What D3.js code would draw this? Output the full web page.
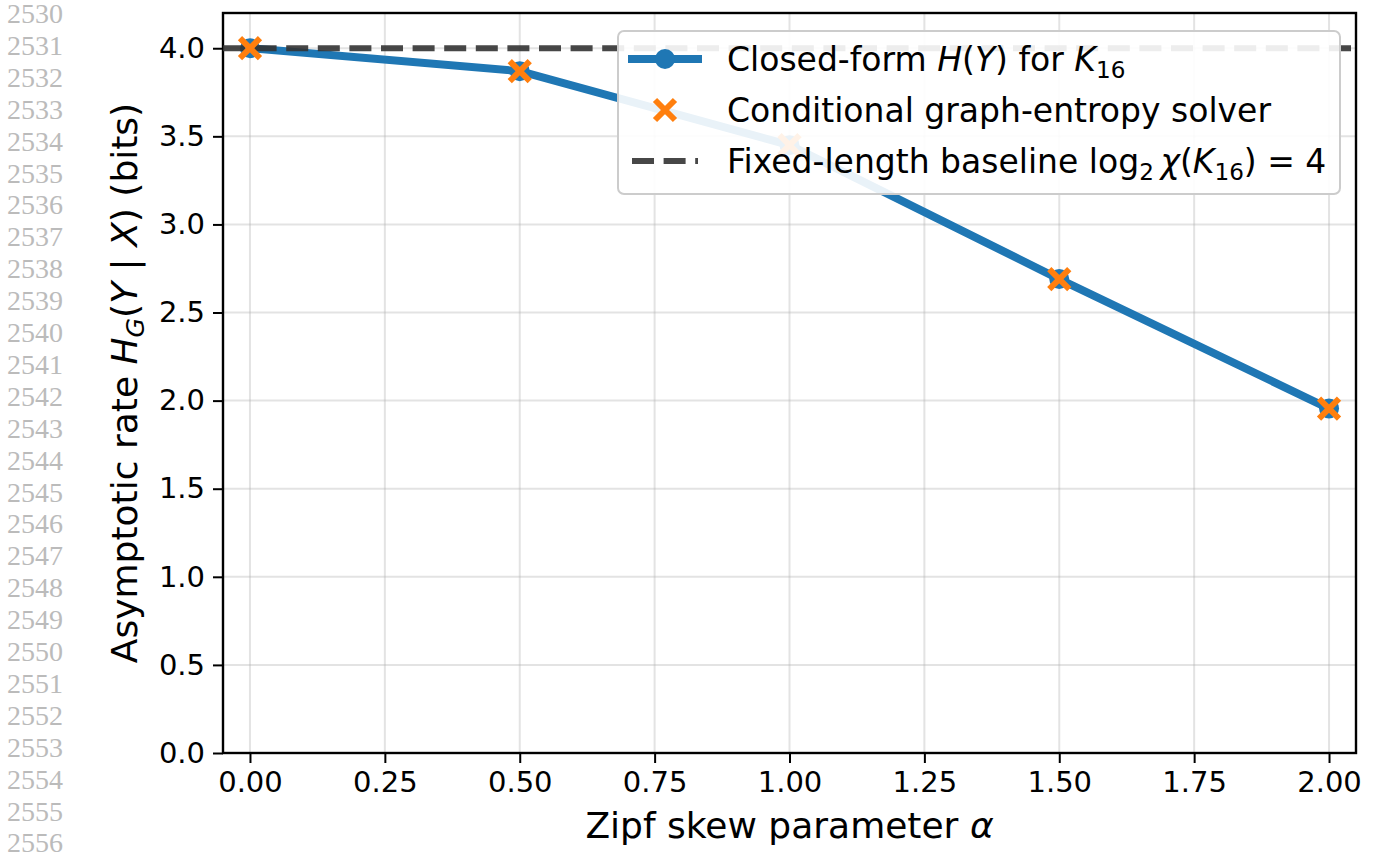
<!DOCTYPE html>
<html>
<head>
<meta charset="utf-8">
<script src="https://cdn.jsdelivr.net/npm/d3@7"></script>
<style>
  body { margin: 0; background: #fff; }
  svg { display: block; }
  text { font-family: "DejaVu Sans", sans-serif; }
</style>
</head>
<body>
<div id="chart"></div>
<script>
// data
const alphas = [0.0, 0.5, 1.0, 1.5, 2.0];
const closedForm = [4.0, 3.87, 3.45, 2.69, 1.955];
const solver = [4.0, 3.87, 3.45, 2.69, 1.955];
const baseline = 4;
const xTicks = [0, 0.25, 0.5, 0.75, 1.0, 1.25, 1.5, 1.75, 2.0];
const yTicks = [0, 0.5, 1.0, 1.5, 2.0, 2.5, 3.0, 3.5, 4.0];
const lineNumbers = d3.range(2530, 2557);

const W = 1377, H = 854;
const svg = d3.select('#chart').append('svg').attr('width', W).attr('height', H);

// margin line numbers
svg.append('g').selectAll('text')
    .data(lineNumbers)
    .enter().append('text')
    .attr('x', 7)
    .attr('y', (d, i) => 13.5 + i * 31.9)
    .attr('dy', '0.34em')
    .style('font-family', '"Liberation Serif", "Times New Roman", serif')
    .style('font-size', '28px')
    .attr('fill', '#bbbbbb')
    .text(d => d);

const x = d3.scaleLinear().domain([-0.05, 2.05]).range([223, 1356]);
const y = d3.scaleLinear().domain([0, 4.2]).range([753, 13]);

// grid
const grid = svg.append('g');
grid.selectAll('.gx').data(xTicks).enter().append('line')
    .attr('x1', d => x(d)).attr('x2', d => x(d))
    .attr('y1', y(4.2)).attr('y2', y(0))
    .attr('stroke', '#b0b0b0').attr('stroke-opacity', 0.35).attr('stroke-width', 2);
grid.selectAll('.gy').data(yTicks).enter().append('line')
    .attr('y1', d => y(d)).attr('y2', d => y(d))
    .attr('x1', x(-0.05)).attr('x2', x(2.05))
    .attr('stroke', '#b0b0b0').attr('stroke-opacity', 0.35).attr('stroke-width', 2);

// axes
const xAxis = svg.append('g')
    .attr('transform', `translate(0,${y(0)})`)
    .call(d3.axisBottom(x).tickValues(xTicks).tickFormat(d3.format('.2f')).tickSizeOuter(0).tickSize(10).tickPadding(8));
const yAxis = svg.append('g')
    .attr('transform', `translate(${x(-0.05)},0)`)
    .call(d3.axisLeft(y).tickValues(yTicks).tickFormat(d3.format('.1f')).tickSizeOuter(0).tickSize(10).tickPadding(8));
[xAxis, yAxis].forEach(a => {
    a.select('.domain').remove();
    a.selectAll('.tick line').attr('stroke', '#000').attr('stroke-width', 2);
    a.selectAll('.tick text').style('font-size', '29px').attr('fill', '#000')
        .style('font-family', '"DejaVu Sans", sans-serif');
});

// frame
svg.append('rect')
    .attr('x', x(-0.05)).attr('y', y(4.2))
    .attr('width', x(2.05) - x(-0.05)).attr('height', y(0) - y(4.2))
    .attr('fill', 'none').attr('stroke', '#000').attr('stroke-width', 2.4);

// closed-form line
const line = d3.line().x((d, i) => x(alphas[i])).y(d => y(d));
svg.append('path')
    .datum(closedForm)
    .attr('d', line)
    .attr('fill', 'none')
    .attr('stroke', '#1f77b4')
    .attr('stroke-width', 8)
    .attr('stroke-linejoin', 'round');
svg.append('g').selectAll('circle')
    .data(closedForm)
    .enter().append('circle')
    .attr('cx', (d, i) => x(alphas[i]))
    .attr('cy', d => y(d))
    .attr('r', 10)
    .attr('fill', '#1f77b4');

// fixed-length baseline
svg.append('line')
    .attr('x1', x(-0.05)).attr('x2', x(2.05))
    .attr('y1', y(baseline)).attr('y2', y(baseline))
    .attr('stroke', '#333').attr('stroke-opacity', 0.9)
    .attr('stroke-width', 6).attr('stroke-dasharray', '22,9.6');

// solver crosses
function cross(g, cx, cy, s) {
    g.append('path')
        .attr('d', `M${cx - s},${cy - s}L${cx + s},${cy + s}M${cx - s},${cy + s}L${cx + s},${cy - s}`)
        .attr('stroke', '#ff7f0e').attr('stroke-width', 6).attr('fill', 'none');
}
const crosses = svg.append('g');
solver.forEach((v, i) => cross(crosses, x(alphas[i]), y(v), 10));

// legend
const lg = svg.append('g');
lg.append('rect')
    .attr('x', 618).attr('y', 31).attr('width', 722).attr('height', 163)
    .attr('rx', 6)
    .attr('fill', '#fff').attr('fill-opacity', 0.9)
    .attr('stroke', '#cccccc').attr('stroke-width', 2);

const rows = [59, 110, 161];
lg.append('line').attr('x1', 628).attr('x2', 702).attr('y1', rows[0]).attr('y2', rows[0])
    .attr('stroke', '#1f77b4').attr('stroke-width', 8);
lg.append('circle').attr('cx', 665).attr('cy', rows[0]).attr('r', 10).attr('fill', '#1f77b4');
cross(lg, 665, rows[1], 10);
lg.append('line').attr('x1', 632).attr('x2', 698).attr('y1', rows[2]).attr('y2', rows[2])
    .attr('stroke', '#333').attr('stroke-opacity', 0.9)
    .attr('stroke-width', 6).attr('stroke-dasharray', '22,9.6');

function addText(g, px, py, parts, size) {
    const t = g.append('text').attr('x', px).attr('y', py).style('font-size', size + 'px').attr('fill', '#000');
    parts.forEach(p => {
        const ts = t.append('tspan').text(p.t);
        if (p.i) ts.style('font-style', 'italic');
        if (p.sub) ts.style('font-size', (size * 0.7) + 'px').attr('dy', size * 0.2);
        if (p.up) ts.attr('dy', -size * 0.2);
    });
    return t;
}
const lf = 33;
addText(lg, 727, rows[0] + 12, [
    {t: 'Closed-form '}, {t: 'H', i: true}, {t: '('}, {t: 'Y', i: true}, {t: ') for '},
    {t: 'K', i: true}, {t: '16', sub: true}
], lf);
addText(lg, 727, rows[1] + 12, [{t: 'Conditional graph-entropy solver'}], lf);
addText(lg, 727, rows[2] + 12, [
    {t: 'Fixed-length baseline log'}, {t: '2', sub: true}, {t: '\u2009', up: true}, {t: 'χ', i: true},
    {t: '('}, {t: 'K', i: true}, {t: '16', sub: true}, {t: ') = 4', up: true}
], lf);

// axis labels
addText(svg, 0, 0, [{t: 'Zipf skew parameter '}, {t: 'α', i: true}], 36)
    .attr('x', x(1.0)).attr('y', 838).attr('text-anchor', 'middle');

const yl = addText(svg, 0, 0, [
    {t: 'Asymptotic rate '}, {t: 'H', i: true}, {t: 'G', i: true, sub: true},
    {t: '(', up: true}, {t: 'Y', i: true}, {t: ' | '}, {t: 'X', i: true}, {t: ') (bits)'}
], 36);
yl.attr('text-anchor', 'middle')
    .attr('transform', `translate(137,${(y(0) + y(4.2)) / 2}) rotate(-90)`);
</script>
</body>
</html>
